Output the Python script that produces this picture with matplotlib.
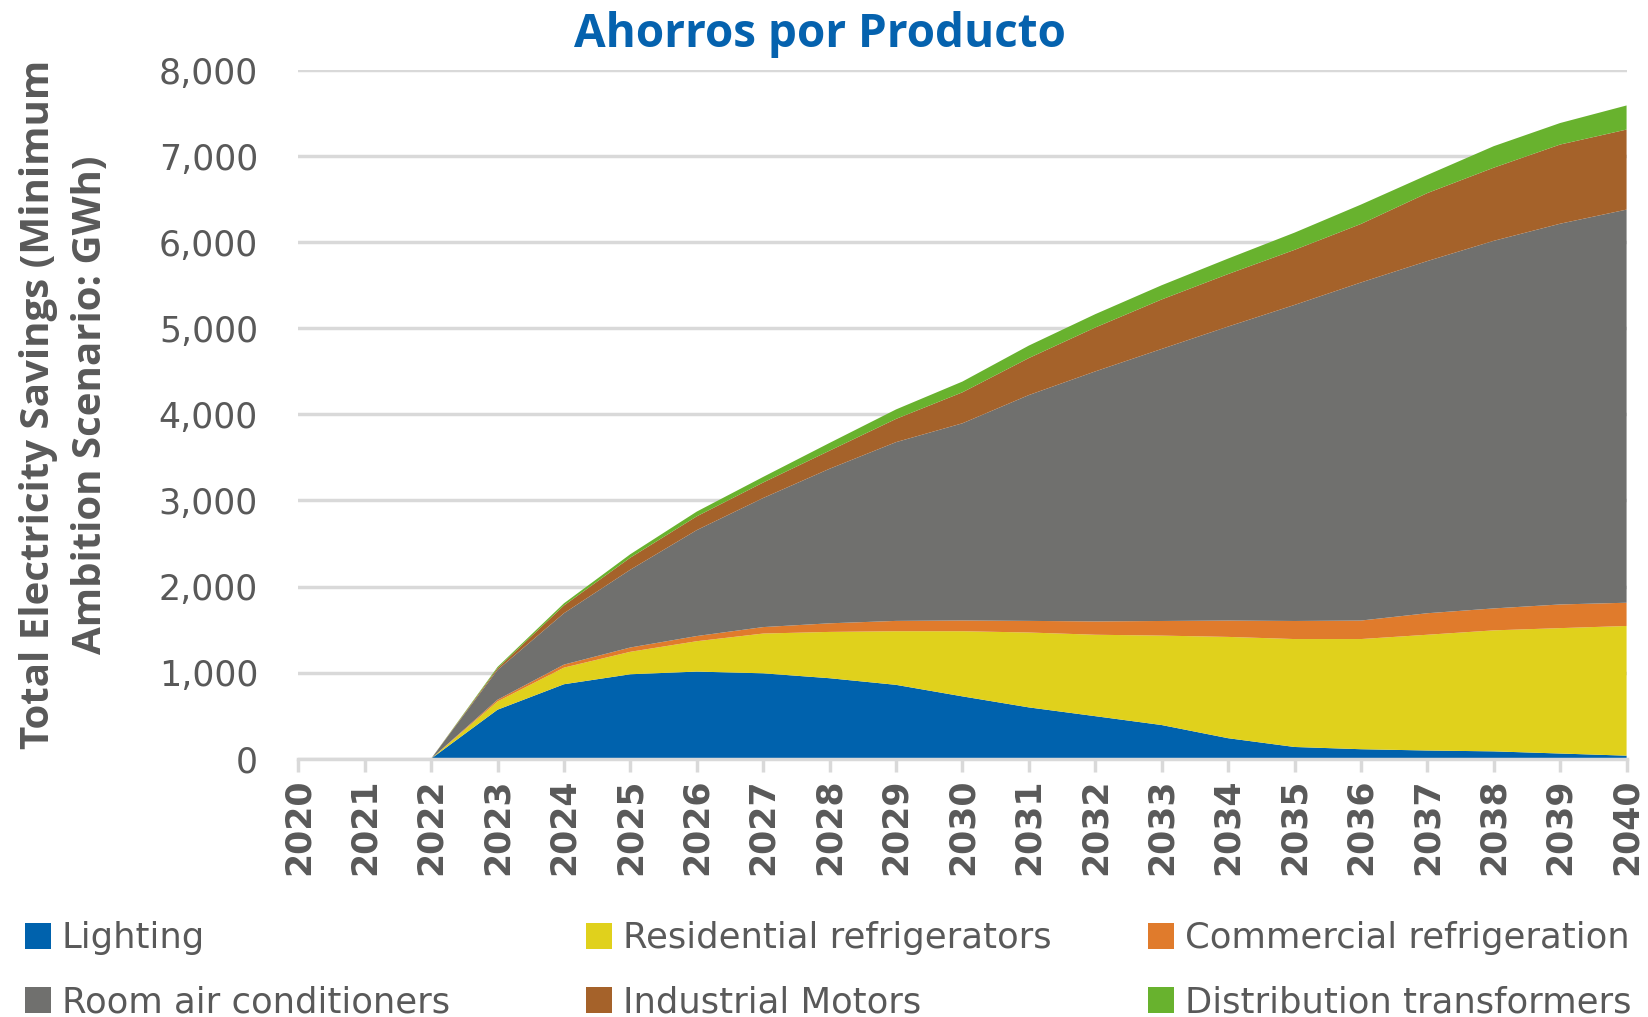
import numpy as np
import matplotlib
matplotlib.use('Agg')
import matplotlib.pyplot as plt
from matplotlib.patches import Patch

# years and savings per product (GWh)
years = list(range(2020, 2041))
lighting = [0, 0, 0, 569, 865, 981, 1012, 992, 935, 858, 724, 596, 494, 391, 238, 136, 110, 95, 85, 60, 35]
residential = [0, 0, 0, 96, 193, 261, 353, 462, 538, 623, 757, 870, 946, 1039, 1177, 1254, 1280, 1345, 1406, 1457, 1507]
commercial = [0, 0, 0, 20, 35, 50, 60, 75, 100, 120, 125, 135, 155, 170, 190, 210, 215, 250, 255, 275, 270]
room_ac = [0, 0, 0, 346, 597, 904, 1231, 1500, 1796, 2077, 2291, 2624, 2905, 3161, 3416, 3672, 3928, 4092, 4271, 4424, 4568]
motors = [0, 0, 0, 20, 90, 140, 160, 180, 210, 270, 360, 430, 510, 575, 610, 640, 680, 790, 850, 920, 930]
transformers = [0, 0, 0, 15, 25, 40, 55, 65, 90, 110, 125, 145, 155, 165, 180, 200, 225, 210, 250, 250, 280]

labels = ['Lighting', 'Residential refrigerators', 'Commercial refrigeration',
          'Room air conditioners', 'Industrial Motors', 'Distribution transformers']
colors = ['#0062AD', '#E0D11C', '#E07B2C', '#70706E', '#A5622A', '#68B22E']

txt_gray = '#595959'
grid_gray = '#D9D9D9'

fig = plt.figure(figsize=(16.48, 10.17), dpi=100)
ax = fig.add_axes([0.181, 0.254, 0.806, 0.677])

ax.stackplot(years, lighting, residential, commercial, room_ac, motors, transformers,
             colors=colors, linewidth=0)

ax.set_xlim(2020, 2040)
ax.set_ylim(0, 8000)
ax.set_xticks(years)
ax.set_xticklabels([str(y) for y in years], rotation=90, fontsize=25,
                   fontweight='bold', color=txt_gray, fontfamily='DejaVu Sans')
ax.set_yticks(range(0, 8001, 1000))
ax.set_yticklabels(['{:,}'.format(v) for v in range(0, 8001, 1000)],
                   fontsize=25, color=txt_gray, fontfamily='DejaVu Sans')
ax.grid(axis='y', color=grid_gray, linewidth=2.5)
ax.set_axisbelow(True)
for s in ['left', 'right', 'top']:
    ax.spines[s].set_visible(False)
ax.spines['bottom'].set_color(grid_gray)
ax.spines['bottom'].set_linewidth(2.5)
ax.tick_params(axis='y', length=0, pad=29)
ax.tick_params(axis='x', length=9, width=2.5, color=grid_gray, pad=5)

ax.set_ylabel('Total Electricity Savings (Minimum\nAmbition Scenario: GWh)',
              fontsize=29, fontweight='bold', color=txt_gray, fontfamily='Open Sans',
              linespacing=1.45, va='center')
ax.yaxis.set_label_coords(-0.176, 0.514)

fig.text(0.4976, 0.9535, 'Ahorros por Producto', ha='center', va='baseline',
         fontsize=33, fontweight='bold', color='#0562AE', fontfamily='Open Sans')

# legend: three columns of two entries
handles = [Patch(facecolor=c) for c in colors]
col_x = [0.0152, 0.3556, 0.6966]
for i, x in enumerate(col_x):
    leg = fig.legend([handles[i], handles[i + 3]], [labels[i], labels[i + 3]],
                     loc='center left', bbox_to_anchor=(x, 0.046), frameon=False,
                     borderaxespad=0, borderpad=0,
                     handlelength=0.74, handleheight=0.74, handletextpad=0.3,
                     labelspacing=0.85,
                     prop={'family': 'DejaVu Sans', 'size': 25.5})
    for t in leg.get_texts():
        t.set_color(txt_gray)

fig.savefig('out.png', dpi=100)
